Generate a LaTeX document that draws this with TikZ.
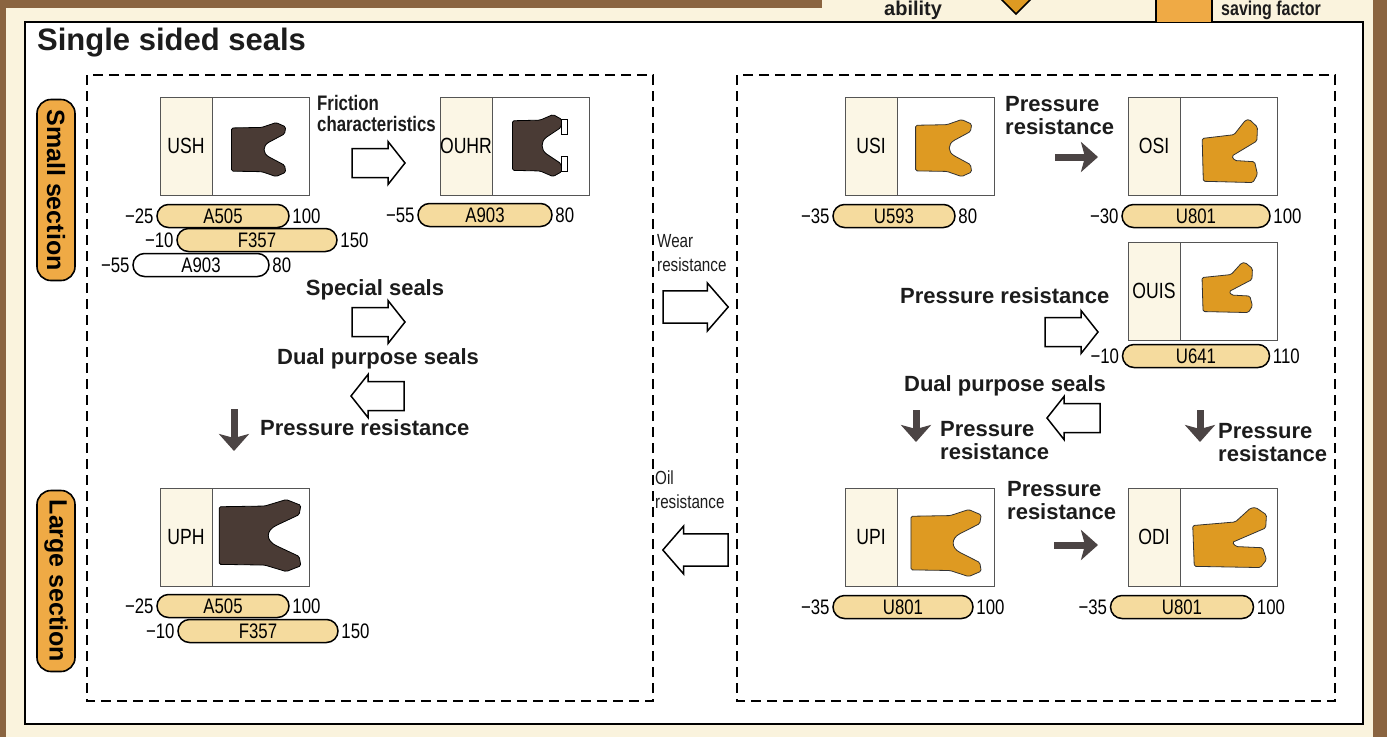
\documentclass[tikz,border=0pt]{standalone}
\usepackage{fontspec}
\setmainfont{Liberation Sans}
\newfontfamily\narrowfont[FakeStretch=0.8]{Liberation Sans}
\usetikzlibrary{positioning,arrows.meta}

\begin{document}
\begin{tikzpicture}[x=1pt, y=-1pt,
    sealtag/.style={draw=boxGrey, line width=0.9, fill=tagCream, minimum width=52, minimum height=98, inner sep=0, font=\narrowfont\fontsize{22}{22}\selectfont},
    sealpane/.style={draw=boxGrey, line width=0.9, fill=white, minimum width=97, minimum height=98, inner sep=0},
    matpill/.style={draw, line width=1.5, fill=pillCream, rounded corners=11.5, minimum height=23, inner sep=0, font=\narrowfont\fontsize{21}{21}\selectfont},
    temp/.style={inner sep=2.5, font=\narrowfont\fontsize{21}{21}\selectfont},
    note/.style={inner sep=0, text=inkBlack, font=\bfseries\fontsize{22}{23}\selectfont},
    sidetag/.style={inner sep=0, align=left, text=inkBlack, font=\narrowfont\fontsize{19}{24}\selectfont},
    sectiontag/.style={draw, line width=1.6, fill=tagOrange, rounded corners=14, minimum width=181, minimum height=38, inner sep=0, rotate=-90, font=\bfseries\fontsize{25}{25}\selectfont},
    groupbox/.style={line width=2.2, dash pattern=on 10pt off 6pt},
    darkarrow/.style={line width=7, draw=arrowGrey, -{Stealth[length=17pt, width=30pt, inset=4pt]}},
    ucup/.pic={\filldraw[pic actions, line width=0.8, rounded corners=1.5pt]
        (0.02,0.1) -- (0.55,0.09) -- (0.8,0) -- (0.97,0.08) -- (0.95,0.21) -- (0.7,0.35)
        .. controls (0.56,0.43) and (0.56,0.57) .. (0.7,0.65)
        -- (0.95,0.79) -- (0.97,0.92) -- (0.8,1) -- (0.55,0.91) -- (0.02,0.9) -- cycle;},
    asym/.pic={\filldraw[pic actions, line width=0.8, rounded corners=1.5pt]
        (0.03,0.3) -- (0.59,0.24) -- (0.79,0.01) -- (0.86,0) -- (1,0.12) -- (0.99,0.34)
        -- (0.55,0.58) -- (0.6,0.65) -- (0.95,0.67) -- (1,0.87) -- (0.92,1) -- (0.05,0.98) -- cycle;},
    blockarrow/.pic={\draw[line width=1.5, fill=white]
        (0,-14.5) -- (36,-14.5) -- (36,-21.5) -- (53,0) -- (36,21.5) -- (36,14.5) -- (0,14.5) -- cycle;}
]
    \definecolor{pageCream}{HTML}{FAF3DD}
    \definecolor{bandBrown}{HTML}{8A6440}
    \definecolor{tagCream}{HTML}{FBF6E5}
    \definecolor{boxGrey}{HTML}{555555}
    \definecolor{pillCream}{HTML}{F5DB9E}
    \definecolor{tagOrange}{HTML}{EFAA45}
    \definecolor{sealOrange}{HTML}{DE9A22}
    \definecolor{sealDark}{HTML}{4A3B35}
    \definecolor{arrowGrey}{HTML}{4B4444}
    \definecolor{inkBlack}{HTML}{1C1C1C}

    \useasboundingbox (0,0) rectangle (1387,737);
    \clip (0,0) rectangle (1387,737);

    % Page, edge bands and frame
    \fill[pageCream] (0,0) rectangle (1387,737);
    \fill[bandBrown] (0,0) rectangle (6,737);
    \fill[bandBrown] (1373,0) rectangle (1387,737);
    \fill[bandBrown] (0,0) rectangle (822,8);
    \draw[line width=2, fill=white] (25,22) rectangle (1363,724);

    % Legend left over along the top
    \node[note, anchor=base west, font=\bfseries\fontsize{20}{20}\selectfont] (ability) at (884,15) {ability};
    \filldraw[fill=sealOrange, draw=black, line width=1.5] (996,-6) -- (1016,14) -- (1036,-6) -- (1016,-26) -- cycle;
    \fill[tagOrange] (1156,-2) rectangle (1212,22);
    \draw[line width=1.2] (1156,-2) -- (1156,22) (1212,-2) -- (1212,22);
    \node[note, anchor=base west, font=\narrowfont\bfseries\fontsize{20}{20}\selectfont] (saving) at (1221,15) {saving factor};

    % Title
    \node[note, anchor=base west, font=\bfseries\fontsize{31}{31}\selectfont] (title) at (37,50) {Single sided seals};

    % Section tags
    \node[sectiontag] (small) at (56,190) {Small section};
    \node[sectiontag] (large) at (56,581) {Large section};

    % Dashed groups
    \draw[groupbox] (87,75) rectangle (653,701);
    \draw[groupbox] (737,75) rectangle (1335,701);

    % Seal boxes
    \node[sealtag] (ushTag) at (186,146) {USH};
    \node[sealpane, right=0pt of ushTag] (ush) {};
    \node[sealtag] (ouhrTag) at (466,146) {OUHR};
    \node[sealpane, right=0pt of ouhrTag] (ouhr) {};
    \node[sealtag] (uphTag) at (186,537) {UPH};
    \node[sealpane, right=0pt of uphTag] (uph) {};
    \node[sealtag] (usiTag) at (871,146) {USI};
    \node[sealpane, right=0pt of usiTag] (usi) {};
    \node[sealtag] (osiTag) at (1154,146) {OSI};
    \node[sealpane, right=0pt of osiTag] (osi) {};
    \node[sealtag] (ouisTag) at (1154,291) {OUIS};
    \node[sealpane, right=0pt of ouisTag] (ouis) {};
    \node[sealtag] (upiTag) at (871,537) {UPI};
    \node[sealpane, right=0pt of upiTag] (upi) {};
    \node[sealtag] (odiTag) at (1154,537) {ODI};
    \node[sealpane, right=0pt of odiTag] (odi) {};

    % Seal profiles
    \pic[fill=sealDark, draw=black, xscale=57, yscale=54] at ([shift={(18,26)}]ush.north west) {ucup};
    \pic[fill=sealDark, draw=black, xscale=52, yscale=62] at ([shift={(19,18)}]ouhr.north west) {ucup};
    \filldraw[fill=white, draw=black, line width=0.7] ([shift={(69,23)}]ouhr.north west) rectangle ++(6,15);
    \filldraw[fill=white, draw=black, line width=0.7] ([shift={(69,60)}]ouhr.north west) rectangle ++(6,15);
    \pic[fill=sealDark, draw=black, xscale=86, yscale=72] at ([shift={(5,12)}]uph.north west) {ucup};
    \pic[fill=sealOrange, draw=black!80, xscale=59, yscale=57] at ([shift={(17,23)}]usi.north west) {ucup};
    \pic[fill=sealOrange, draw=black!80, xscale=57, yscale=63] at ([shift={(20,23)}]osi.north west) {asym};
    \pic[fill=sealOrange, draw=black!80, xscale=52, yscale=50] at ([shift={(20,21)}]ouis.north west) {asym};
    \pic[fill=sealOrange, draw=black!80, xscale=74, yscale=67] at ([shift={(12,22)}]upi.north west) {ucup};
    \pic[fill=sealOrange, draw=black!80, xscale=76, yscale=60] at ([shift={(10,20)}]odi.north west) {asym};

    % Materials with their temperature range
    \node[matpill, minimum width=132] (ushA) at (223,216) {A505};
    \node[temp, left=0pt of ushA] {−25};
    \node[temp, right=0pt of ushA] {100};
    \node[matpill, minimum width=160] (ushF) at (257,240) {F357};
    \node[temp, left=0pt of ushF] {−10};
    \node[temp, right=0pt of ushF] {150};
    \node[matpill, minimum width=136, fill=white] (ushW) at (201,265) {A903};
    \node[temp, left=0pt of ushW] {−55};
    \node[temp, right=0pt of ushW] {80};

    \node[matpill, minimum width=134] (ouhrA) at (485,215) {A903};
    \node[temp, left=0pt of ouhrA] {−55};
    \node[temp, right=0pt of ouhrA] {80};

    \node[matpill, minimum width=132] (uphA) at (223,606) {A505};
    \node[temp, left=0pt of uphA] {−25};
    \node[temp, right=0pt of uphA] {100};
    \node[matpill, minimum width=160] (uphF) at (258,631) {F357};
    \node[temp, left=0pt of uphF] {−10};
    \node[temp, right=0pt of uphF] {150};

    \node[matpill, minimum width=122] (usiU) at (894,216) {U593};
    \node[temp, left=0pt of usiU] {−35};
    \node[temp, right=0pt of usiU] {80};
    \node[matpill, minimum width=148] (osiU) at (1196,216) {U801};
    \node[temp, left=0pt of osiU] {−30};
    \node[temp, right=0pt of osiU] {100};
    \node[matpill, minimum width=147] (ouisU) at (1196,356) {U641};
    \node[temp, left=0pt of ouisU] {−10};
    \node[temp, right=0pt of ouisU] {110};
    \node[matpill, minimum width=140] (upiU) at (903,607) {U801};
    \node[temp, left=0pt of upiU] {−35};
    \node[temp, right=0pt of upiU] {100};
    \node[matpill, minimum width=143] (odiU) at (1182,607) {U801};
    \node[temp, left=0pt of odiU] {−35};
    \node[temp, right=0pt of odiU] {100};

    % Left group: notes and arrows
    \node[note, align=left, anchor=north west, font=\narrowfont\bfseries\fontsize{21}{21}\selectfont] (friction) at (317,95) {Friction\\characteristics};
    \pic at (352,163) {blockarrow};
    \node[note] (special) at (375,290) {Special seals};
    \pic at (352,322) {blockarrow};
    \node[note] (dualL) at (378,359) {Dual purpose seals};
    \pic[xscale=-1] at (404,396) {blockarrow};
    \node[note, anchor=west] (pressL) at (260,428) {Pressure resistance};
    \coordinate (downL) at (234,409);
    \coordinate (downLend) at (234,451);
    \draw[darkarrow] (downL) -- (downLend);

    % Between the groups
    \node[sidetag, anchor=west] (wear) at (657,253) {Wear\\resistance};
    \pic[xscale=1.23, yscale=1.12] at (663,307) {blockarrow};
    \node[sidetag, anchor=west] (oil) at (655,490) {Oil\\resistance};
    \pic[xscale=-1.23, yscale=1.12] at (728,550) {blockarrow};

    % Right group: notes and arrows
    \node[note, align=left, anchor=north west] (pressUsi) at (1005,96) {Pressure\\resistance};
    \coordinate (darkA) at (1055,157);
    \coordinate (darkAend) at (1098,157);
    \draw[darkarrow] (darkA) -- (darkAend);
    \node[note, anchor=west] (pressOuis) at (900,296) {Pressure resistance};
    \pic at (1045,332) {blockarrow};
    \node[note] (dualR) at (1005,386) {Dual purpose seals};
    \pic[xscale=-1] at (1100,418) {blockarrow};
    \coordinate (downM) at (916,410);
    \coordinate (downMend) at (916,442);
    \draw[darkarrow] (downM) -- (downMend);
    \node[note, align=left, anchor=north west] (pressM) at (940,421) {Pressure\\resistance};
    \coordinate (downR) at (1200,410);
    \coordinate (downRend) at (1200,442);
    \draw[darkarrow] (downR) -- (downRend);
    \node[note, align=left, anchor=north west] (pressR) at (1218,423) {Pressure\\resistance};
    \node[note, align=left, anchor=north west] (pressUpi) at (1007,481) {Pressure\\resistance};
    \coordinate (darkB) at (1054,545);
    \coordinate (darkBend) at (1098,545);
    \draw[darkarrow] (darkB) -- (darkBend);

\end{tikzpicture}
\end{document}
